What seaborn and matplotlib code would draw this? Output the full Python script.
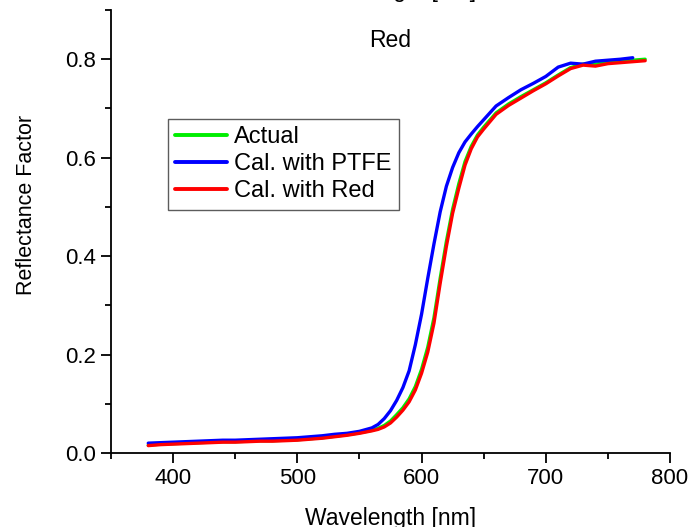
import numpy as np
import pandas as pd
import matplotlib
matplotlib.use("Agg")
import matplotlib.pyplot as plt
import seaborn as sns
from matplotlib.ticker import MultipleLocator

# ---- data ----
wl_actual = [380, 390, 400, 410, 420, 430, 440, 450, 460, 470, 480, 490, 500, 510, 520,
             530, 540, 550, 560, 565, 570, 575, 580, 585, 590, 595, 600, 605, 610, 615,
             620, 625, 630, 635, 640, 645, 650, 660, 670, 680, 690, 700, 710, 720, 730,
             740, 750, 760, 770, 780]
actual = [0.016, 0.018, 0.019, 0.020, 0.021, 0.022, 0.023, 0.023, 0.024, 0.025, 0.025,
          0.026, 0.027, 0.029, 0.031, 0.034, 0.037, 0.041, 0.046, 0.050, 0.056, 0.065,
          0.078, 0.092, 0.110, 0.135, 0.170, 0.215, 0.275, 0.355, 0.430, 0.495, 0.547,
          0.592, 0.623, 0.646, 0.662, 0.691, 0.709, 0.724, 0.738, 0.752, 0.768, 0.783,
          0.790, 0.790, 0.794, 0.796, 0.798, 0.800]

wl_ptfe = [380, 390, 400, 410, 420, 430, 440, 450, 460, 470, 480, 490, 500, 510, 520,
           530, 540, 550, 560, 565, 570, 575, 580, 585, 590, 595, 600, 605, 610, 615,
           620, 625, 630, 635, 640, 645, 650, 660, 670, 680, 690, 700, 710, 720, 730,
           740, 750, 760, 770]
ptfe = [0.020, 0.021, 0.022, 0.023, 0.024, 0.025, 0.026, 0.026, 0.027, 0.028, 0.029,
        0.030, 0.031, 0.033, 0.035, 0.038, 0.040, 0.044, 0.051, 0.058, 0.070, 0.086,
        0.107, 0.133, 0.167, 0.220, 0.282, 0.355, 0.425, 0.490, 0.542, 0.580, 0.610,
        0.632, 0.648, 0.663, 0.677, 0.705, 0.722, 0.738, 0.751, 0.765, 0.784, 0.792,
        0.790, 0.796, 0.798, 0.800, 0.803]

wl_red = [380, 390, 400, 410, 420, 430, 440, 450, 460, 470, 480, 490, 500, 510, 520,
          530, 540, 550, 560, 565, 570, 575, 580, 585, 590, 595, 600, 605, 610, 615,
          620, 625, 630, 635, 640, 645, 650, 660, 670, 680, 690, 700, 710, 720, 730,
          740, 750, 760, 770, 780]
red = [0.015, 0.017, 0.018, 0.019, 0.020, 0.021, 0.022, 0.022, 0.023, 0.024, 0.024,
       0.025, 0.026, 0.028, 0.030, 0.033, 0.036, 0.040, 0.045, 0.048, 0.053, 0.061,
       0.073, 0.087, 0.104, 0.128, 0.162, 0.205, 0.264, 0.345, 0.420, 0.487, 0.538,
       0.585, 0.618, 0.642, 0.658, 0.688, 0.706, 0.721, 0.736, 0.750, 0.766, 0.781,
       0.788, 0.786, 0.791, 0.793, 0.795, 0.797]

series_names = ["Actual", "Cal. with PTFE", "Cal. with Red"]
series_colors = ["#00ee00", "#0000ff", "#ff0000"]
x_ticks = [400, 500, 600, 700, 800]
y_ticks = [0.0, 0.2, 0.4, 0.6, 0.8]

df = pd.concat([
    pd.DataFrame({"Wavelength": wl_actual, "Value": actual, "Series": series_names[0]}),
    pd.DataFrame({"Wavelength": wl_ptfe, "Value": ptfe, "Series": series_names[1]}),
    pd.DataFrame({"Wavelength": wl_red, "Value": red, "Series": series_names[2]}),
], ignore_index=True)

sns.set_style("ticks")
plt.rcParams["font.family"] = ["Liberation Sans", "DejaVu Sans"]
for k in ["text.color", "axes.labelcolor", "xtick.color", "ytick.color",
          "axes.edgecolor"]:
    plt.rcParams[k] = "black"

fig = plt.figure(figsize=(6.91, 5.27), dpi=100)
ax = fig.add_axes([111 / 691, 1 - 453 / 527, 559 / 691, 443 / 527])

sns.lineplot(data=df, x="Wavelength", y="Value", hue="Series",
             hue_order=series_names, palette=series_colors,
             linewidth=2.4, ax=ax, sort=False, estimator=None)

ax.set_xlim(350, 800)
ax.set_ylim(0, 0.9)
ax.set_xticks(x_ticks)
ax.set_yticks(y_ticks)
ax.set_yticklabels([f"{v:.1f}" for v in y_ticks])
ax.xaxis.set_minor_locator(MultipleLocator(50))
ax.yaxis.set_minor_locator(MultipleLocator(0.1))
ax.tick_params(which="major", direction="out", length=7, width=1.3,
               labelsize=16, color="black", labelcolor="black", pad=4)
ax.tick_params(which="minor", direction="out", length=4, width=1.3, color="black")
for s in ["top", "right"]:
    ax.spines[s].set_visible(False)
for s in ["left", "bottom"]:
    ax.spines[s].set_linewidth(1.3)
    ax.spines[s].set_color("black")

ax.set_xlabel("Wavelength [nm]", fontsize=16.5, labelpad=13, color="black")
ax.set_ylabel("Reflectance Factor", fontsize=15.5, color="black")
ax.yaxis.set_label_coords(-0.132, (453 - 205) / 443)

ax.text(0.5, 0.932, "Red", transform=ax.transAxes, ha="center", va="center",
        fontsize=16.5, color="black")

leg = ax.legend(loc="upper left", bbox_to_anchor=(0.102, 0.754), fontsize=17,
                frameon=True, fancybox=False, handlelength=2.2,
                handletextpad=0.3, labelspacing=0.22, borderpad=0.3,
                borderaxespad=0)
leg.get_frame().set_edgecolor("#333333")
leg.get_frame().set_linewidth(1.0)
for t in leg.get_texts():
    t.set_color("black")
for line in leg.get_lines():
    line.set_linewidth(2.8)

# clipped label of the panel above (only descenders visible)
fig.text(391 / 691, 1.0 + 3 / 527, "Wavelength [nm]", ha="center",
         va="baseline", fontsize=16.5, color="black")

fig.savefig("out.png", dpi=100)
